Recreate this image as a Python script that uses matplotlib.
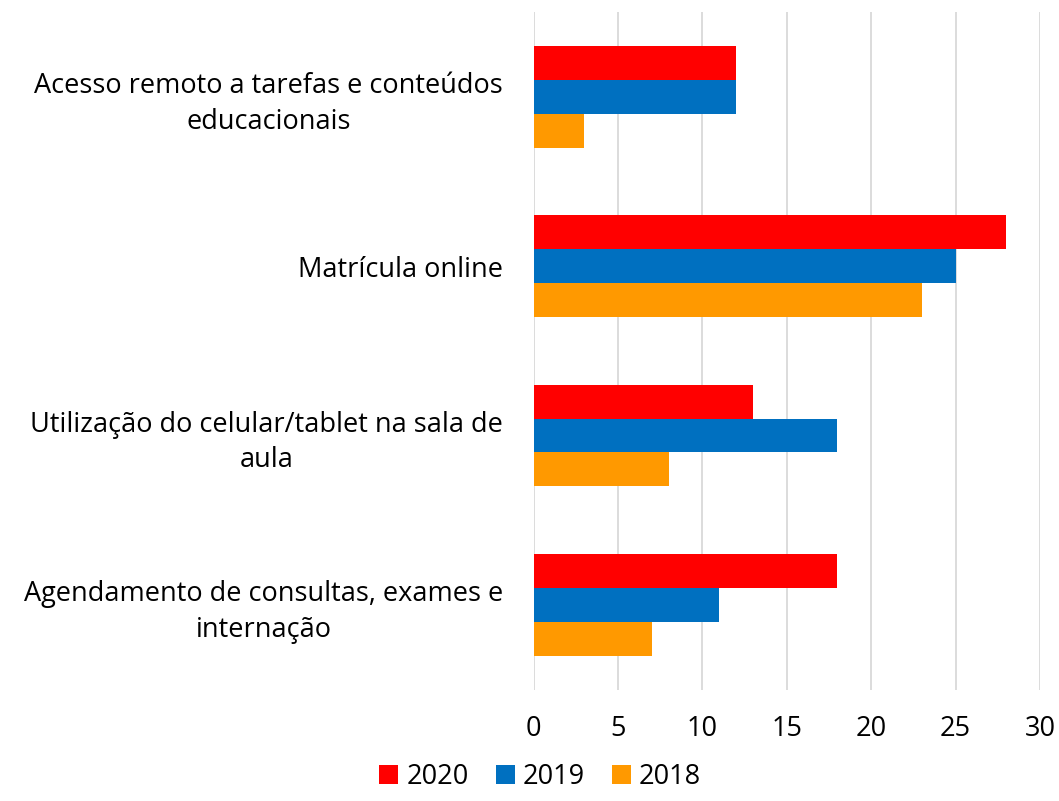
import matplotlib.pyplot as plt
import numpy as np

plt.rcParams['font.family'] = ['Open Sans', 'DejaVu Sans']

categories = [
    'Acesso remoto a tarefas e conteúdos\neducacionais',
    'Matrícula online',
    'Utilização do celular/tablet na sala de\naula',
    'Agendamento de consultas, exames e\ninternação',
]
years = ['2020', '2019', '2018']
values_2020 = [12, 28, 13, 18]
values_2019 = [12, 25, 18, 11]
values_2018 = [3, 23, 8, 7]
colors = ['#FF0000', '#0070C0', '#FF9900']

fig = plt.figure(figsize=(10.59, 8.01), dpi=100)
ax = fig.add_axes([0.504, 0.139, 0.478, 0.846])

y = np.arange(len(categories))
h = 0.2
for i, (vals, yr, c) in enumerate(zip([values_2020, values_2019, values_2018], years, colors)):
    ax.barh(y + (i - 1) * h, vals, height=h, color=c, label=yr, zorder=2)

ax.set_ylim(len(categories) - 0.5, -0.5)
ax.set_xlim(0, 30)
ax.set_xticks(range(0, 31, 5))
ax.set_yticks(y)
ax.set_yticklabels(categories, multialignment='center', linespacing=1.35)
ax.tick_params(axis='y', length=0, pad=22, labelsize=19.5, colors='#000000')
ax.tick_params(axis='x', length=0, pad=18, labelsize=19.5)
ax.grid(axis='x', color='#D9D9D9', linewidth=1.3, zorder=0)
for s in ax.spines.values():
    s.set_visible(False)

leg = fig.legend(loc='lower center', bbox_to_anchor=(0.51, -0.018), ncol=3, frameon=False,
                 fontsize=19.5, handlelength=0.7, handleheight=0.7, columnspacing=1.0,
                 handletextpad=0.3)

fig.savefig('out.png', dpi=100)
